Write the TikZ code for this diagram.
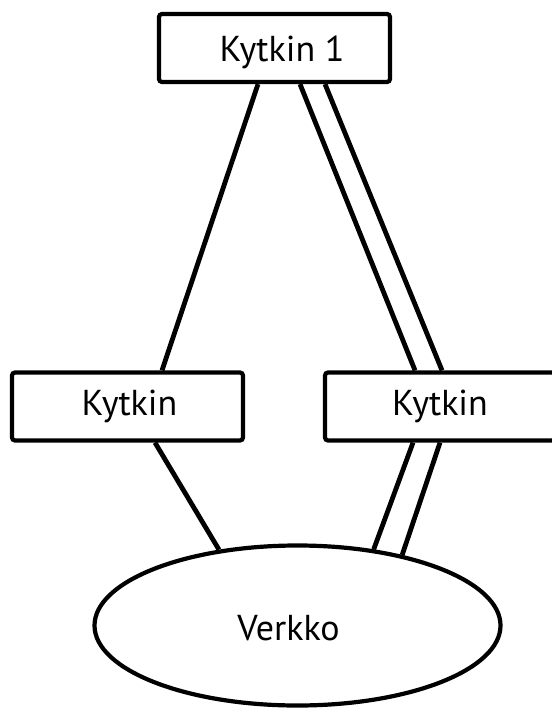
\documentclass[tikz,border=0pt]{standalone}
\usepackage{fontspec}
\setmainfont{PT Sans}
\usetikzlibrary{shapes.geometric,calc}
\begin{document}
\begin{tikzpicture}[x=1pt,y=-1pt,
  box/.style={draw,line width=4.2pt,rounded corners=3pt,minimum width=231pt,
              minimum height=68pt,inner sep=0pt},
  lbl/.style={font=\fontsize{36}{42}\selectfont,anchor=base,inner sep=0pt},
  link/.style={line width=4.8pt}]
\useasboundingbox (0,0) rectangle (551,708);

% switches and the network
\node[box] (k1) at (274.5,48) {};
\node[box] (kl) at (127.5,406.5) {};
\node[box,minimum width=230pt] (kr) at (440,406.5) {};
\node[draw,ellipse,line width=4.2pt,minimum width=406pt,minimum height=160pt,
      inner sep=0pt] (net) at (297.5,625.5) {};

% labels
\node[lbl] (k1t) at (282,62) {Kytkin 1};
\node[lbl] (klt) at (129.5,415) {Kytkin};
\node[lbl] (krt) at (440,415) {Kytkin};
\node[lbl] (nett) at (288.5,640) {Verkko};

% single links
\draw[link] ([xshift=-16.5pt]k1.south) -- ([xshift=34.5pt]kl.north);
\draw[link] ([xshift=27.5pt]kl.south) -- (net.136.8);

% doubled links
\draw[link] ([xshift=25.5pt]k1.south) -- ([xshift=-25pt]kr.north);
\draw[link] ([xshift=50.5pt]k1.south) -- ([xshift=2pt]kr.north);
\draw[link] ([xshift=-27pt]kr.south) -- (net.45.4);
\draw[link] ([xshift=0pt]kr.south) -- (net.34.5);
\end{tikzpicture}
\end{document}
